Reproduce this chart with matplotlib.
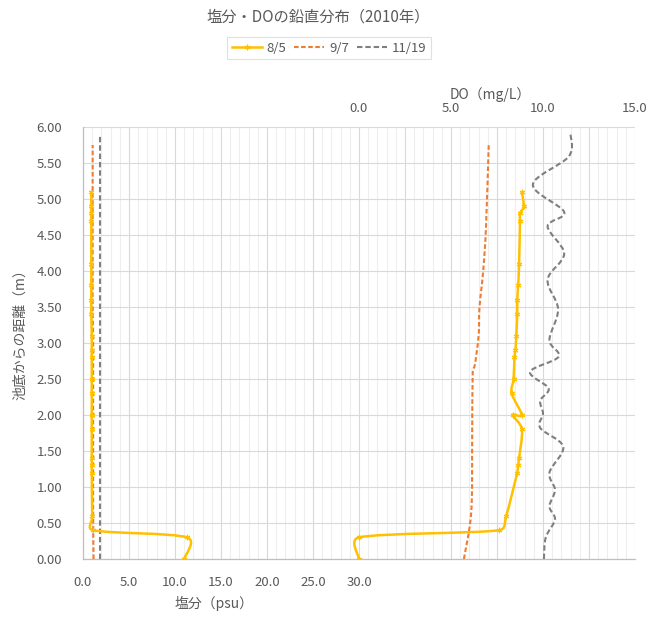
import numpy as np
import matplotlib
matplotlib.use("Agg")
import matplotlib.pyplot as plt
from matplotlib.path import Path
from matplotlib.patches import PathPatch
from matplotlib.lines import Line2D
from matplotlib.ticker import MultipleLocator, FuncFormatter

plt.rcParams['font.family'] = ['Noto Sans CJK JP', 'DejaVu Sans']

# ---- data: distance from pond bottom (m), salinity (psu), DO (mg/L) ----
depth_0805 = [0.0, 0.3, 0.4, 0.6, 1.2, 1.3, 1.4, 1.8, 2.0, 2.0, 2.3, 2.5,
              2.8, 2.9, 3.1, 3.4, 3.6, 3.8, 4.1, 4.7, 4.8, 4.9, 5.1]
sal_0805 = [11.0, 11.3, 1.1, 1.0, 0.95, 0.95, 0.95, 0.95, 0.95, 0.95, 0.95, 0.95,
            0.95, 0.95, 0.95, 0.9, 0.9, 0.9, 0.9, 0.9, 0.9, 0.9, 0.9]
do_0805 = [0.0, 0.0, 7.6, 8.0, 8.6, 8.65, 8.7, 8.85, 8.35, 8.85, 8.3, 8.4,
           8.45, 8.5, 8.55, 8.6, 8.6, 8.65, 8.7, 8.75, 8.75, 8.95, 8.85]

depth_0907 = [0.0, 0.65, 1.65, 2.6, 2.7, 3.1, 3.5, 4.0, 4.6, 5.75]
sal_0907 = [1.15, 1.1, 1.1, 1.1, 1.1, 1.1, 1.05, 1.05, 1.05, 1.05]
do_0907 = [5.7, 6.1, 6.15, 6.18, 6.3, 6.5, 6.55, 6.75, 6.9, 7.05]

depth_1119_sal = [0.0, 5.9]
sal_1119 = [1.85, 1.85]
depth_1119 = [0.0, 0.3, 0.55, 0.73, 0.96, 1.2, 1.56, 1.82, 2.02, 2.2, 2.37, 2.6,
              2.81, 3.04, 3.47, 3.88, 4.24, 4.62, 4.82, 5.2, 5.59, 5.9]
do_1119 = [10.05, 10.15, 10.65, 10.35, 10.65, 10.35, 11.1, 9.85, 10.0, 9.85, 10.3, 9.3,
           10.85, 10.35, 10.82, 10.25, 11.15, 10.25, 11.15, 9.45, 11.4, 11.5]

series_labels = ['8/5', '9/7', '11/19']
sal_ticks = [0, 5, 10, 15, 20, 25, 30]
do_ticks = [0, 5, 10, 15]

C_GOLD = '#FFC000'
C_ORANGE = '#ED7D31'
C_GRAY = '#7F7F7F'
TXT = '#595959'


def smooth_path(ax, xs, ys):
    """Smoothed cubic Bezier path through the points.

    Tangents are Catmull-Rom style (1/6 of the chord to the neighbours),
    clamped in screen space so a control arm never exceeds half of its
    segment; this keeps sharp jumps from overshooting.
    """
    data = np.column_stack([xs, ys]).astype(float)
    pts = ax.transData.transform(data)
    n = len(pts)
    verts = [pts[0]]
    codes = [Path.MOVETO]
    for i in range(n - 1):
        p0 = pts[i - 1] if i > 0 else pts[i]
        p1 = pts[i]
        p2 = pts[i + 1]
        p3 = pts[i + 2] if i + 2 < n else pts[i + 1]
        d12 = np.hypot(*(p2 - p1))
        d02 = np.hypot(*(p2 - p0))
        d13 = np.hypot(*(p3 - p1))
        f1 = 1 / 6 if d02 == 0 else min(1 / 6, d12 / (2 * d02))
        f2 = 1 / 6 if d13 == 0 else min(1 / 6, d12 / (2 * d13))
        c1 = p1 + (p2 - p0) * f1
        c2 = p2 - (p3 - p1) * f2
        verts += [c1, c2, p2]
        codes += [Path.CURVE4] * 3
    verts = ax.transData.inverted().transform(np.array(verts))
    return Path(verts, codes)


def draw_curve(ax, xs, ys, color, lw, dashes=None, z=3):
    patch = PathPatch(smooth_path(ax, xs, ys), facecolor='none', edgecolor=color,
                      lw=lw, zorder=z, capstyle='butt', joinstyle='round')
    if dashes is not None:
        patch.set_linestyle((0, dashes))
    ax.add_patch(patch)


fig = plt.figure(figsize=(6.54, 6.17), dpi=100)
ax = fig.add_axes([83 / 654, 1 - 559 / 617, (635 - 83) / 654, (559 - 127) / 617])

ax.set_xlim(0, 60)
ax.set_ylim(0, 6)
ax.xaxis.set_major_locator(MultipleLocator(5))
ax.xaxis.set_minor_locator(MultipleLocator(1))
ax.xaxis.set_major_formatter(FuncFormatter(
    lambda v, p: f'{v:.1f}' if round(v) in sal_ticks else ''))
ax.yaxis.set_major_locator(MultipleLocator(0.5))
ax.yaxis.set_major_formatter(FuncFormatter(lambda v, p: f'{v:.2f}'))
ax.grid(which='major', axis='x', color='#d9d9d9', lw=0.8)
ax.grid(which='minor', axis='x', color='#eeeeee', lw=0.8)
ax.grid(which='major', axis='y', color='#d9d9d9', lw=0.8)
ax.set_axisbelow(True)
ax.tick_params(axis='x', which='both', length=0, pad=12, labelsize=9.5, colors=TXT)
ax.tick_params(axis='y', which='both', length=0, pad=15, labelsize=9.5, colors=TXT)
for s in ['top', 'right']:
    ax.spines[s].set_visible(False)
for s in ['left', 'bottom']:
    ax.spines[s].set_color('#bfbfbf')
    ax.spines[s].set_linewidth(0.9)

ax2 = ax.twiny()
ax2.set_xlim(-15, 15)
ax2.set_ylim(0, 6)
ax2.set_xticks(do_ticks)
ax2.xaxis.set_major_formatter(FuncFormatter(lambda v, p: f'{v:.1f}'))
ax2.tick_params(axis='x', length=0, pad=9, labelsize=9.5, colors=TXT)
for s in ax2.spines.values():
    s.set_visible(False)

# salinity profiles (bottom axis)
draw_curve(ax, sal_1119, depth_1119_sal, C_GRAY, 1.5, dashes=(2.6, 1.4))
draw_curve(ax, sal_0907, depth_0907, C_ORANGE, 1.5, dashes=(2.2, 1.2))
draw_curve(ax, sal_0805, depth_0805, C_GOLD, 1.8, z=4)
ax.plot(sal_0805, depth_0805, ls='none', marker=(6, 2, 0), ms=4,
        mec=C_GOLD, mew=0.8, zorder=5)

# DO profiles (top axis)
draw_curve(ax2, do_1119, depth_1119, C_GRAY, 1.5, dashes=(2.6, 1.4))
draw_curve(ax2, do_0907, depth_0907, C_ORANGE, 1.5, dashes=(2.2, 1.2))
draw_curve(ax2, do_0805, depth_0805, C_GOLD, 1.8, z=4)
ax2.plot(do_0805, depth_0805, ls='none', marker=(6, 2, 0), ms=4,
         mec=C_GOLD, mew=0.8, zorder=5)

# titles and axis labels
fig.text(318 / 654, 1 - 17 / 617, '塩分・DOの鉛直分布（2010年）', ha='center', va='center',
         fontsize=11, color=TXT)
fig.text(20 / 654, 1 - 331 / 617, '池底からの距離（m）', rotation=90, ha='center',
         va='center', fontsize=10, color=TXT)
fig.text(214 / 654, 1 - 603 / 617, '塩分（psu）', ha='center', va='center',
         fontsize=10, color=TXT)
fig.text(490 / 654, 1 - 95 / 617, 'DO（mg/L）', ha='center', va='center',
         fontsize=10, color=TXT)

handles = [
    Line2D([], [], color=C_GOLD, lw=1.8, marker=(6, 2, 0), ms=4, mew=0.8),
    Line2D([], [], color=C_ORANGE, lw=1.5, ls=(0, (2.2, 1.2))),
    Line2D([], [], color=C_GRAY, lw=1.5, ls=(0, (2.6, 1.4))),
]
leg = fig.legend(handles, series_labels, loc='center',
                 bbox_to_anchor=(329 / 654, 1 - 48 / 617), ncol=3, frameon=True,
                 fancybox=False, edgecolor='#d9d9d9', fontsize=9.5, handlelength=2.3,
                 columnspacing=0.6, handletextpad=0.35, borderpad=0.35, numpoints=1)
leg.get_frame().set_linewidth(0.8)
for t in leg.get_texts():
    t.set_color(TXT)

fig.savefig('out.png', dpi=100, facecolor='white')
